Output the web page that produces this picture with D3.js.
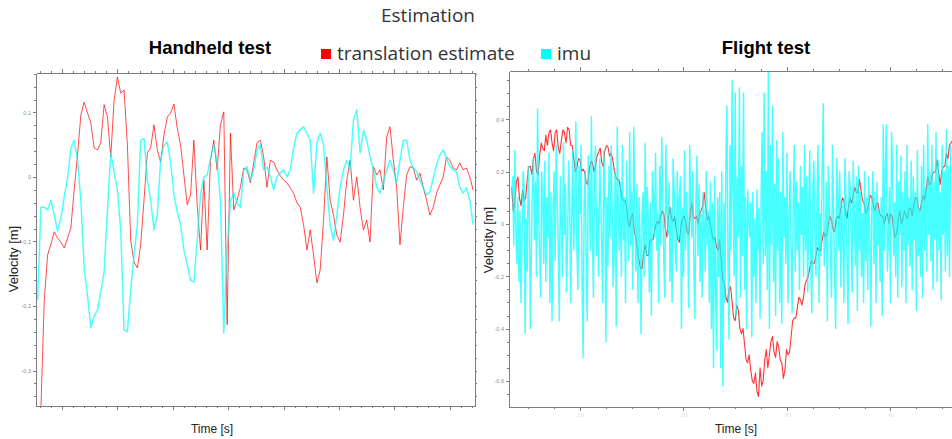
<!DOCTYPE html>
<html>
<head>
<meta charset="utf-8">
<script src="https://cdn.jsdelivr.net/npm/d3@7"></script>
<style>
  body { margin: 0; background: #fff; }
  svg { display: block; }
  .axis path, .axis line { stroke: #7d7d7d; stroke-width: 1; shape-rendering: crispEdges; }
  .axis text { fill: #8a8a8a; font-family: "Liberation Sans", Arial, sans-serif; font-size: 5.5px; }
  .xlab text { fill: #e4e4e4; font-size: 6px; }
</style>
</head>
<body>
<svg id="chart" width="952" height="439"></svg>
<script>
// ---- Handheld test: velocity [m], sampled every 0.3 s ----
const handheldStart = 3.1, handheldImuStart = 2.8, handheldStep = 0.3;
const handheldEstimate = [
  -0.357,-0.191,-0.121,-0.104,-0.085,-0.095,-0.101,-0.110,-0.095,-0.079,
  -0.020,0.034,0.096,0.116,0.099,0.084,0.045,0.042,0.053,0.112,
  0.093,0.031,0.119,0.155,0.130,0.135,0.050,-0.098,-0.132,-0.141,
  -0.105,-0.036,0.037,0.045,0.081,0.042,0.023,0.065,0.093,0.099,
  0.113,0.076,0.050,0.003,-0.043,-0.028,0.057,-0.043,-0.113,-0.005,
  -0.113,0.026,0.057,0.011,0.081,0.101,-0.229,0.068,-0.051,-0.036,
  -0.016,0.014,0.011,-0.009,0.022,0.053,0.057,0.031,-0.016,0.026,
  0.023,0.011,0.002,-0.005,-0.009,-0.017,-0.025,-0.040,-0.047,-0.074,
  -0.113,-0.082,-0.121,-0.164,-0.144,-0.067,0.031,-0.036,-0.059,-0.090,
  -0.101,-0.059,-0.005,0.026,-0.036,0.0,-0.047,-0.082,-0.067,-0.101,
  0.016,0.003,0.011,-0.020,0.062,0.078,0.026,-0.016,-0.105,-0.047,
  0.003,0.016,0.014,-0.005,0.006,-0.016,-0.036,-0.059,-0.047,-0.025,
  -0.012,0.0,0.031,0.026,0.014,0.011,0.022,0.011,0.014,0.0,
  -0.020
];
const handheldImu = [
  -0.191,-0.047,-0.047,-0.051,-0.036,-0.059,-0.084,-0.064,-0.031,-0.002,
  0.045,0.057,0.026,-0.036,-0.141,-0.183,-0.233,-0.216,-0.206,-0.178,
  -0.147,-0.051,0.037,0.008,-0.020,-0.082,-0.237,-0.240,-0.175,-0.121,
  -0.074,0.057,0.060,-0.005,-0.036,-0.082,-0.059,0.026,0.050,0.054,
  0.023,-0.028,-0.054,-0.074,-0.113,-0.136,-0.160,-0.163,-0.098,-0.028,
  0.0,0.003,0.029,0.050,0.023,-0.036,-0.242,-0.113,-0.036,-0.025,
  -0.040,-0.047,0.011,0.016,-0.005,0.011,0.042,0.050,0.011,0.016,
  0.0,-0.020,0.0,0.006,0.011,0.0,0.011,0.045,0.068,0.073,
  0.078,0.068,0.057,-0.025,0.053,0.068,0.050,-0.016,-0.074,-0.098,
  -0.059,-0.016,0.011,0.026,0.011,0.088,0.104,0.037,0.073,0.057,
  0.031,0.011,-0.016,-0.025,-0.009,0.011,0.026,0.011,-0.009,0.026,
  0.057,0.057,0.026,0.014,0.008,-0.005,-0.017,-0.028,-0.023,-0.002,
  0.019,0.034,0.042,0.029,0.016,0.011,0.008,-0.016,-0.025,-0.017,
  -0.036,-0.074
];

// ---- Flight test: estimate every 0.15 s, imu every 0.1 s ----
const flightStart = 3.4, flightEstimateStep = 0.15, flightImuStep = 0.1;
const flightEstimate = [
  0.14,0.05,0.08,0.16,0.18,0.1,0.07,0.13,0.09,0.1,0.17,0.22,0.22,0.19,0.25,0.27,0.2,0.19,0.26,0.31,
  0.29,0.28,0.34,0.3,0.35,0.36,0.31,0.28,0.35,0.36,0.29,0.27,0.32,0.36,0.35,0.31,0.37,0.36,0.30,0.3,
  0.25,0.2,0.215,0.25,0.245,0.2,0.21,0.2,0.16,0.15,0.21,0.24,0.235,0.2,0.22,0.26,0.275,0.29,0.235,0.22,
  0.28,0.3,0.295,0.26,0.27,0.25,0.21,0.18,0.17,0.17,0.14,0.1,0.09,0.09,0.065,0.01,-0.01,0.03,0.04,-0.03,
  -0.05,-0.1,-0.14,-0.17,-0.17,-0.11,-0.08,-0.12,-0.12,-0.07,-0.06,-0.06,-0.03,0.0,0.01,0.0,0.03,0.05,0.04,-0.02,
  -0.05,0.03,0.065,0.02,0.01,0.03,-0.02,-0.06,-0.07,-0.01,0.02,0.03,0.01,-0.03,-0.04,0.04,0.08,0.03,0.02,0.03,
  0.0,0.04,0.05,0.07,0.12,0.06,0.015,0.03,0.0,-0.04,-0.06,-0.05,-0.09,-0.1,-0.06,-0.14,-0.215,-0.23,-0.28,-0.3,
  -0.25,-0.24,-0.30,-0.36,-0.37,-0.31,-0.33,-0.4,-0.42,-0.4,-0.46,-0.52,-0.53,-0.5,-0.56,-0.6,-0.61,-0.57,-0.64,-0.66,
  -0.55,-0.62,-0.6,-0.52,-0.48,-0.55,-0.5,-0.45,-0.43,-0.49,-0.51,-0.45,-0.47,-0.52,-0.53,-0.59,-0.56,-0.48,-0.5,-0.49,
  -0.43,-0.37,-0.36,-0.36,-0.32,-0.28,-0.29,-0.31,-0.28,-0.23,-0.215,-0.2,-0.17,-0.14,-0.15,-0.15,-0.12,-0.09,-0.1,-0.1,
  -0.06,-0.03,-0.05,-0.04,0.0,0.03,0.015,-0.02,-0.03,0.02,0.03,0.02,0.06,0.1,0.09,0.04,0.02,0.07,0.1,0.08,
  0.11,0.14,0.12,0.12,0.17,0.13,0.09,0.08,0.04,0.05,0.08,0.11,0.1,0.07,0.05,0.08,0.08,0.04,0.03,0.03,
  0.0,0.03,0.04,0.0,0.04,0.03,-0.02,-0.05,-0.035,0.02,0.05,0.0,0.02,0.05,0.03,0.02,0.06,0.06,0.03,0.07,
  0.1,0.1,0.06,0.05,0.08,0.11,0.09,0.13,0.18,0.15,0.155,0.19,0.2,0.2,0.245,0.2,0.15,0.2,0.22,0.22,
  0.27,0.25,0.3,0.31,0.32
];
const flightImu = [
  0.12,0.18,-0.08,0.28,-0.02,-0.15,0.1,-0.22,0.05,-0.3,-0.06,0.2,0.14,-0.42,0.02,-0.18,0.22,0.06,-0.4,-0.1,
  0.15,0.25,-0.06,0.16,-0.2,0.44,0.05,-0.12,-0.28,0.2,0.08,-0.15,0.24,-0.22,0.1,-0.05,0.27,-0.3,0.12,-0.37,
  0.06,0.2,-0.14,0.3,0.1,-0.08,-0.37,0.18,0.02,-0.2,0.31,-0.04,0.15,-0.26,-0.08,0.24,0.1,-0.3,0.02,0.28,
  -0.1,0.12,0.39,-0.1,-0.25,0.22,0.04,0.3,-0.2,-0.51,0.08,0.2,-0.16,-0.37,0.26,0.12,-0.1,0.41,-0.04,-0.28,
  0.18,0.3,-0.12,0.06,-0.2,0.25,0.1,-0.08,-0.3,0.28,0.14,-0.45,0.1,-0.16,0.22,-0.05,0.3,0.08,-0.24,-0.12,
  0.2,-0.39,0.37,0.05,-0.1,0.16,-0.2,0.3,-0.06,0.1,-0.3,0.24,0.02,-0.14,0.35,-0.08,0.12,-0.25,0.37,0.06,
  -0.18,0.15,-0.3,0.1,-0.05,-0.42,0.05,0.12,-0.2,0.31,-0.12,0.14,0.02,-0.26,0.08,-0.35,0.2,0.1,-0.05,0.27,
  -0.1,0.04,-0.3,0.22,-0.08,0.33,0.1,-0.15,-0.28,0.3,0.05,-0.04,0.16,-0.22,0.06,-0.3,0.25,0.12,-0.1,-0.18,
  0.2,-0.06,0.1,0.18,-0.4,0.06,-0.2,0.28,-0.1,0.12,0.0,-0.32,0.3,0.1,-0.05,0.2,-0.16,-0.36,0.08,0.26,
  -0.12,0.15,-0.22,0.04,-0.28,0.12,0.0,-0.18,0.2,-0.08,0.05,-0.3,0.16,-0.4,0.08,-0.55,0.18,-0.25,-0.48,0.1,
  -0.2,0.12,-0.55,0.2,-0.62,0.08,-0.3,0.25,0.45,-0.15,-0.44,0.3,-0.1,0.55,0.1,-0.2,0.5,-0.35,0.18,-0.05,
  0.52,-0.28,0.22,-0.12,0.5,-0.25,0.1,-0.4,0.13,0.02,-0.05,0.08,-0.43,0.12,-0.2,0.02,-0.3,0.13,-0.1,0.06,
  -0.36,0.1,0.35,-0.15,0.5,-0.12,0.2,-0.25,0.59,-0.4,0.3,-0.08,0.45,-0.22,0.15,-0.35,0.32,-0.1,0.25,-0.3,
  0.12,-0.38,0.35,-0.05,0.1,-0.15,0.27,-0.3,0.02,0.2,-0.08,-0.34,0.05,0.3,-0.18,0.16,-0.1,0.08,-0.25,0.22,
  -0.04,0.14,-0.2,0.3,-0.1,0.18,-0.26,0.06,0.28,-0.15,-0.34,0.12,0.24,-0.05,-0.2,0.1,0.3,-0.3,0.04,-0.12,
  0.2,0.46,-0.16,-0.08,0.16,-0.37,0.22,0.1,-0.12,-0.28,0.3,0.05,-0.18,-0.4,0.25,0.14,-0.1,0.2,-0.24,0.08,
  -0.06,-0.3,0.25,0.1,-0.12,-0.38,0.2,0.14,-0.05,-0.26,0.24,0.06,-0.16,0.18,-0.33,0.22,-0.1,0.12,-0.2,0.04,
  -0.3,0.2,-0.14,0.1,-0.25,0.18,-0.05,-0.39,0.08,0.2,-0.15,0.12,-0.3,0.16,-0.08,0.05,-0.22,0.1,-0.35,0.38,
  -0.1,0.2,0.38,-0.18,-0.06,0.14,-0.3,0.35,0.22,-0.12,0.08,-0.2,0.3,-0.28,0.16,-0.04,0.26,-0.24,0.12,-0.1,
  0.2,-0.3,0.3,-0.08,0.1,-0.16,0.24,-0.25,0.18,-0.06,0.12,-0.33,0.28,-0.12,0.06,-0.2,0.22,-0.28,0.3,-0.1,
  0.14,-0.18,0.38,-0.04,0.2,-0.14,0.3,-0.25,0.16,-0.06,0.35,-0.22,0.24,-0.1,0.12,-0.29,0.3,-0.04,0.2,-0.18,0.36,-0.12,0.22,-0.2,0.3
];

// ---- Tick labels ----
const handheldYTicks = [0.1, 0, -0.1, -0.2, -0.3];
const handheldYLabels = ["0,1", "0", "-0,1", "-0,2", "-0,3"];
const flightYTicks = [0.4, 0.2, 0, -0.2, -0.4, -0.6];
const flightYLabels = ["0,4", "0,2", "0", "-0,2", "-0,4", "-0,6"];
const flightXTicks = [10, 20, 30, 40];

// ---- Legend ----
const seriesNames = ["translation estimate", "imu"];
const seriesColors = ["#ff0000", "#00ffff"];

const svg = d3.select("#chart");

function drawPanel(p) {
  const x = d3.scaleLinear().domain(p.xDomain).range([p.left, p.right]);
  const y = d3.scaleLinear().domain(p.yDomain).range([p.bottom, p.top]);
  const g = svg.append("g");

  const clipId = "clip-" + p.id;
  g.append("clipPath").attr("id", clipId).append("rect")
    .attr("x", p.left).attr("y", p.top)
    .attr("width", p.right - p.left).attr("height", p.bottom - p.top);

  // estimate underneath, imu drawn over it semi-transparent
  const plot = g.append("g").attr("clip-path", `url(#${clipId})`);
  p.series.forEach(s => {
    const line = d3.line()
      .x((d, i) => x(s.start + i * s.step))
      .y(d => y(d));
    plot.append("path")
      .datum(s.values)
      .attr("d", line)
      .attr("fill", "none")
      .attr("stroke", s.color)
      .attr("stroke-width", s.width)
      .attr("stroke-opacity", s.opacity)
      .attr("stroke-linejoin", "round");
  });

  const minorX = d3.range(Math.ceil(p.xDomain[0] / p.xMinor) * p.xMinor, p.xDomain[1], p.xMinor);
  const majorX = minorX.filter(v => Math.abs(v / p.xMajor - Math.round(v / p.xMajor)) < 1e-6);
  const minorY = d3.range(Math.ceil(p.yDomain[0] / p.yMinor - 1e-9) * p.yMinor, p.yDomain[1], p.yMinor);

  // top and bottom axes
  g.append("g").attr("class", "axis").attr("transform", `translate(0,${p.top})`)
    .call(d3.axisTop(x).tickValues(minorX).tickFormat("").tickSize(2).tickSizeOuter(0));
  g.append("g").attr("class", "axis").attr("transform", `translate(0,${p.top})`)
    .call(d3.axisTop(x).tickValues(majorX).tickFormat("").tickSize(4).tickSizeOuter(0));
  g.append("g").attr("class", "axis").attr("transform", `translate(0,${p.bottom})`)
    .call(d3.axisBottom(x).tickValues(minorX).tickFormat("").tickSize(2).tickSizeOuter(0));
  const bx = g.append("g").attr("class", "axis xlab").attr("transform", `translate(0,${p.bottom})`)
    .call(d3.axisBottom(x).tickValues(p.xLabels ? p.xLabels : majorX)
      .tickFormat(p.xLabels ? d3.format("d") : "").tickSize(4).tickPadding(2).tickSizeOuter(0));
  bx.select(".domain").remove();

  // left axis with labels
  g.append("g").attr("class", "axis").attr("transform", `translate(${p.left},0)`)
    .call(d3.axisLeft(y).tickValues(minorY).tickFormat("").tickSize(2).tickSizeOuter(0));
  g.append("g").attr("class", "axis").attr("transform", `translate(${p.left},0)`)
    .call(d3.axisLeft(y).tickValues(p.yTicks).tickFormat((d, i) => p.yLabels[i])
      .tickSize(3).tickPadding(2).tickSizeOuter(0));

  // right frame
  g.append("g").attr("class", "axis").attr("transform", `translate(${p.right},0)`)
    .call(d3.axisRight(y).tickValues(minorY).tickFormat("").tickSize(2).tickSizeOuter(0));

  // panel title and axis titles
  svg.append("text").attr("x", p.titleX).attr("y", 54)
    .attr("text-anchor", "middle")
    .style("font-family", "'Liberation Sans', Arial, sans-serif")
    .style("font-weight", "bold").style("font-size", "18.5px").style("fill", "#000")
    .text(p.title);
  svg.append("text").attr("x", p.xTitleX).attr("y", 433)
    .attr("text-anchor", "middle")
    .style("font-family", "'Liberation Sans', Arial, sans-serif")
    .style("font-size", "12px").style("fill", "#222")
    .text("Time [s]");
  svg.append("text")
    .attr("transform", `translate(${p.yTitleX},${p.yTitleY}) rotate(-90)`)
    .attr("text-anchor", "middle")
    .style("font-family", "'Liberation Sans', Arial, sans-serif")
    .style("font-size", "13px").style("fill", "#222")
    .text("Velocity [m]");
}

drawPanel({
  id: "handheld",
  left: 36, right: 475, top: 73, bottom: 406,
  xDomain: [2.653, 42.27], xMinor: 1, xMajor: 5,
  yDomain: [-0.355, 0.1612], yMinor: 0.02,
  yTicks: handheldYTicks, yLabels: handheldYLabels,
  title: "Handheld test", titleX: 210, xTitleX: 212, yTitleX: 18, yTitleY: 259,
  series: [
    { values: handheldEstimate, start: handheldStart, step: handheldStep, color: seriesColors[0], width: 1, opacity: 0.7 },
    { values: handheldImu, start: handheldImuStart, step: handheldStep, color: seriesColors[1], width: 1.5, opacity: 0.7 }
  ]
});

drawPanel({
  id: "flight",
  left: 509, right: 962, top: 71, bottom: 407,
  xDomain: [3.14, 46.91], xMinor: 2.5, xMajor: 10, xLabels: flightXTicks,
  yDomain: [-0.6998, 0.5851], yMinor: 0.05,
  yTicks: flightYTicks, yLabels: flightYLabels,
  title: "Flight test", titleX: 766, xTitleX: 736, yTitleX: 493, yTitleY: 240,
  series: [
    { values: flightEstimate, start: flightStart, step: flightEstimateStep, color: seriesColors[0], width: 1.1, opacity: 0.8 },
    { values: flightImu, start: flightStart, step: flightImuStep, color: seriesColors[1], width: 1.5, opacity: 0.72 }
  ]
});

// figure title
svg.append("text").attr("x", 428).attr("y", 22).attr("text-anchor", "middle")
  .style("font-family", "'Open Sans', sans-serif").style("font-size", "19px").style("fill", "#333")
  .text("Estimation");

// legend
const legend = svg.append("g").attr("transform", "translate(321,49)");
const legendX = [0, 220];
seriesNames.forEach((name, i) => {
  const item = legend.append("g").attr("transform", `translate(${legendX[i]},0)`);
  item.append("rect").attr("width", 10).attr("height", 10).attr("fill", seriesColors[i]);
  item.append("text").attr("x", 16).attr("y", 10.5)
    .style("font-family", "'Open Sans', sans-serif").style("font-size", "19px").style("fill", "#333")
    .text(name);
});
</script>
</body>
</html>
